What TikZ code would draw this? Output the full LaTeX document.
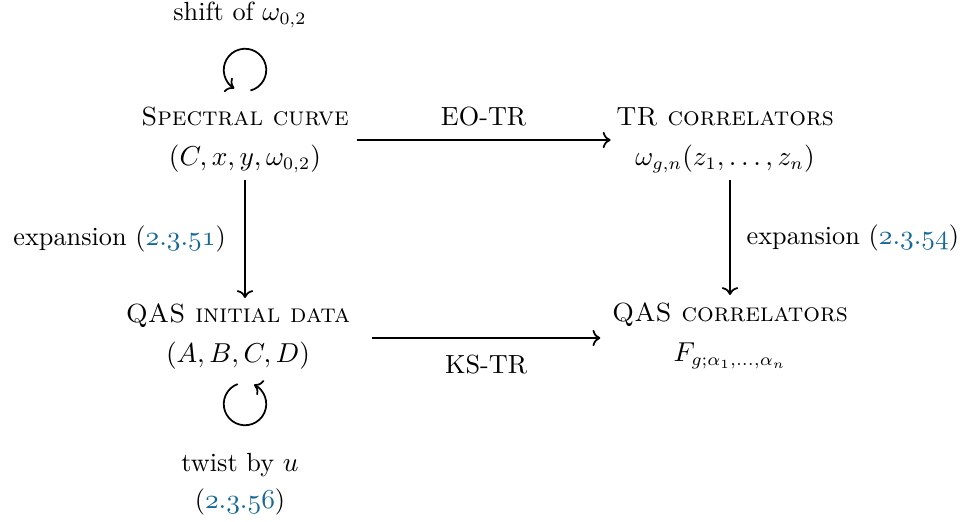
\documentclass[tikz,border=0pt]{standalone}
\usetikzlibrary{arrows.meta}
\definecolor{refblue}{RGB}{22,104,150}
\newcommand{\myref}[1]{{\color{refblue}$\mathnormal{#1}$}}
\newcommand{\myfont}{\fontsize{10.5}{13}\selectfont}
\begin{document}
\begin{tikzpicture}[x=0.4pt,y=-0.4pt,
  lbl/.style={align=center, inner sep=2pt},
  arr/.style={->, line width=0.7pt},
  every node/.style={font=\myfont}]
\useasboundingbox (0,0) rectangle (968,521);
\node[lbl] (sc) at (245,140) {\textsc{Spectral curve}\\[3pt] $(C,x,y,\omega_{0,2})$};
\node[lbl] (tr) at (725,140) {\textsc{TR correlators}\\[3pt] $\omega_{g,n}(z_1,\ldots,z_n)$};
\node[lbl] (qas) at (238,337) {\textsc{QAS initial data}\\[3pt] $(A,B,C,D)$};
\node[lbl] (qc) at (730,336) {\textsc{QAS correlators}\\[3pt] $F_{g;\alpha_1,\ldots,\alpha_n}$};
\node (shift) at (240,15) {shift of $\omega_{0,2}$};
\node[align=center] (twist) at (240,484) {twist by $u$\\[2pt] (\myref{2.3.56})};
\coordinate (c1) at (245,70);
\coordinate (c2) at (245,404);
\draw[arr] (c1) ++(-75:8.5pt) arc[start angle=-75, end angle=240, radius=8.5pt];
\draw[arr] (c2) ++(110:8.5pt) arc[start angle=110, end angle=425, radius=8.5pt];
\draw[arr] ([xshift=1pt]sc.east) -- node[above=2pt] {EO-TR} (tr.west);
\draw[arr] ([xshift=6.5pt]qas.east |- 0,338) -- node[below=3pt] {KS-TR} ([xshift=-2.5pt]qc.west |- 0,338);
\draw[arr] (245,180) -- node[left=4pt] {expansion (\myref{2.3.51})} (245,298);
\draw[arr] (730,180) -- node[right=3pt] {expansion (\myref{2.3.54})} (730,295);
\end{tikzpicture}
\end{document}
